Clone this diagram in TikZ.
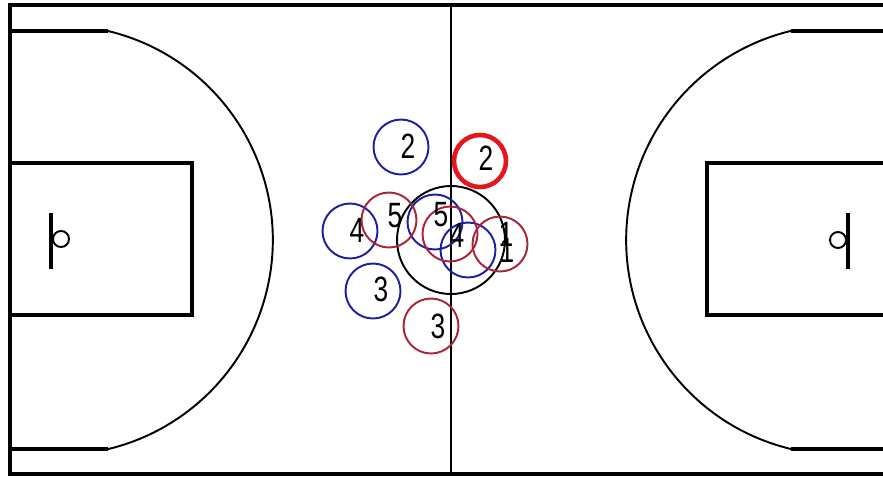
\documentclass[tikz,border=0pt]{standalone}
\usepackage{fontspec}
\setmainfont{Liberation Sans}
\newfontfamily\numfont[FakeStretch=0.75]{Liberation Sans}
\definecolor{teamblue}{RGB}{30,30,160}
\definecolor{teamred}{RGB}{170,35,55}
\definecolor{hotred}{RGB}{230,20,30}
\begin{document}
\begin{tikzpicture}[x=0.02cm, y=-0.02cm,
	court/.style={line width=2.2pt},
	thinline/.style={line width=1.1pt},
	player/.style={circle, draw, line width=1.1pt, minimum size=1.1cm, inner sep=0pt},
	blueplayer/.style={player, draw=teamblue},
	redplayer/.style={player, draw=teamred},
	num/.style={font=\numfont\fontsize{20}{20}\selectfont, inner sep=0pt}]
	\useasboundingbox (0,0) rectangle (883,478);
	\clip (0,0) rectangle (883,478);
	
	% Sân và vạch giữa sân
	\draw[court] (10,5) rectangle (891,474);
	\draw[line width=1.6pt] (451,5) -- (451,474);
	\draw[thinline] (451,240) circle[radius=54];
	
	% Nửa sân trái
	\draw[court] (10,163) rectangle (192,315);
	\draw[court] (10,31) -- (108,31);
	\draw[court] (10,449) -- (108,449);
	\draw[thinline] (108,31) arc[start angle=-76.5, end angle=76.5, radius=215];
	\draw[court] (51,213) -- (51,269);
	\draw[thinline] (61,239) circle[radius=8];
	
	% Nửa sân phải
	\draw[court] (707,163) rectangle (891,315);
	\draw[court] (791,31) -- (891,31);
	\draw[court] (791,449) -- (891,449);
	\draw[thinline] (791,449) arc[start angle=103.5, end angle=256.5, radius=215];
	\draw[court] (848,213) -- (848,269);
	\draw[thinline] (838,240) circle[radius=8];
	
	% Đội xanh
	\node[blueplayer] (b2) at (401,147) {};
	\node[blueplayer] (b4) at (350,231) {};
	\node[blueplayer] (b3) at (373,291) {};
	\node[blueplayer] (b5) at (435,222) {};
	\node[blueplayer] (b1) at (468,250) {};
	
	% Đội đỏ
	\node[redplayer] (r5) at (389,220) {};
	\node[redplayer] (r3) at (431,326) {};
	\node[redplayer] (r4) at (450,234) {};
	\node[redplayer] (r1) at (500,244) {};
	\node[redplayer, draw=hotred, line width=2.6pt, minimum size=1.04cm] (r2) at (480,161) {};
	
	% Số áo
	\node[num] (b2n) at (408,146) {2};
	\node[num] (b4n) at (357,230) {4};
	\node[num] (b3n) at (381,289) {3};
	\node[num] (b5n) at (441,215) {5};
	\node[num] (b1n) at (507,250) {1};
	\node[num] (r5n) at (395,216) {5};
	\node[num] (r3n) at (438,326) {3};
	\node[num] (r4n) at (457,235) {4};
	\node[num] (r1n) at (506,234) {1};
	\node[num] (r2n) at (486,158) {2};
\end{tikzpicture}
\end{document}
